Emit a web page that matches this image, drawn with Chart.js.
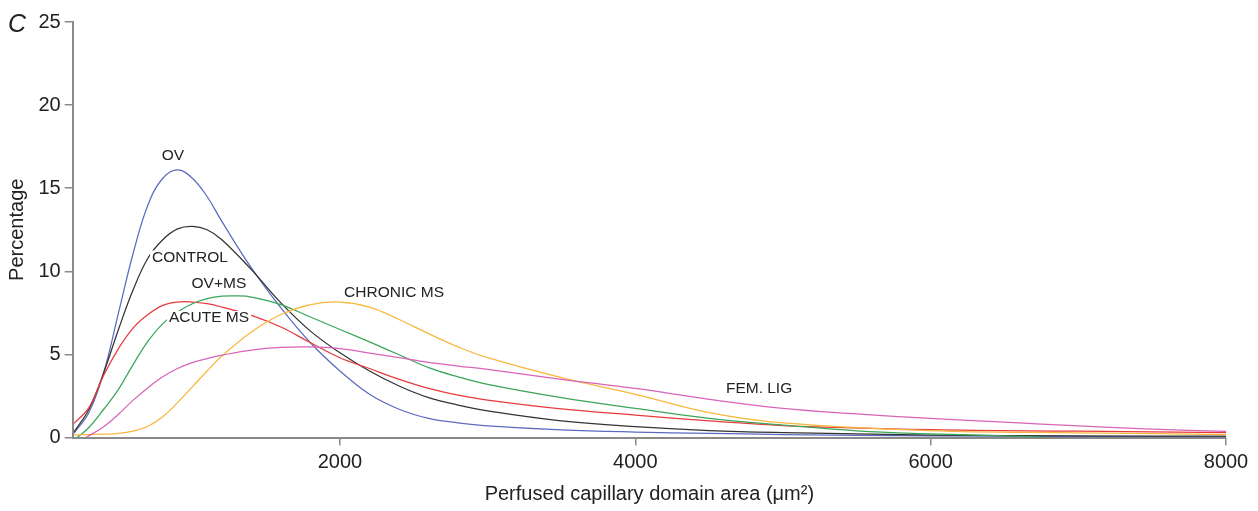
<!DOCTYPE html>
<html>
<head>
<meta charset="utf-8">
<script src="https://cdn.jsdelivr.net/npm/chart.js@4.4.1/dist/chart.umd.min.js"></script>
<style>
  html, body { margin: 0; padding: 0; background: #fff; }
  canvas { display: block; }
</style>
</head>
<body>
<canvas id="chart" width="1258" height="511"></canvas>
<script>
// x values (µm²) and percentage per curve
const X_MAIN = [200, 300, 400, 500, 600, 700, 800, 900, 1000, 1100, 1200, 1400, 1600, 1800, 2000, 2200, 2400, 2600, 2800, 3000, 3500, 4000, 4500, 5000, 6000, 7000, 8000];

const OV =       [0.27, 1.5, 3.9, 7.5, 11.1, 14.0, 15.6, 16.1, 15.6, 14.5, 13.0, 10.2, 7.8, 5.7, 4.0, 2.6, 1.7, 1.15, 0.88, 0.7, 0.46, 0.33, 0.25, 0.18, 0.1, 0.06, 0.04];
const CONTROL =  [0.35, 1.7, 3.9, 6.5, 8.9, 10.8, 11.9, 12.55, 12.7, 12.5, 11.9, 10.1, 8.1, 6.4, 5.1, 4.0, 3.1, 2.4, 1.95, 1.6, 1.0, 0.65, 0.42, 0.3, 0.15, 0.1, 0.08];
const ACUTE_MS = [0.85, 1.8, 3.75, 5.35, 6.6, 7.4, 7.95, 8.15, 8.15, 8.05, 7.85, 7.35, 6.65, 5.7, 4.8, 4.15, 3.5, 2.95, 2.55, 2.25, 1.72, 1.35, 1.0, 0.72, 0.47, 0.38, 0.3];
const CHRONIC_MS = [0.15, 0.18, 0.2, 0.25, 0.38, 0.68, 1.25, 2.1, 3.05, 4.0, 4.9, 6.35, 7.4, 8.0, 8.15, 7.85, 7.1, 6.25, 5.45, 4.8, 3.6, 2.6, 1.5, 0.88, 0.42, 0.28, 0.18];

const X_OVMS = [220, 300, 400, 500, 600, 700, 800, 900, 1000, 1100, 1200, 1300, 1400, 1600, 1800, 2000, 2200, 2400, 2600, 2800, 3000, 3500, 4000, 4500, 5000, 5500, 6000, 6500, 6800];
const OV_MS =  [0, 0.6, 1.7, 2.9, 4.4, 5.8, 6.85, 7.55, 8.05, 8.35, 8.5, 8.52, 8.45, 8.0, 7.25, 6.5, 5.75, 4.98, 4.2, 3.65, 3.2, 2.4, 1.75, 1.15, 0.75, 0.4, 0.22, 0.1, 0];

const X_FEM = [280, 400, 500, 600, 700, 800, 900, 1000, 1100, 1200, 1400, 1600, 1800, 2000, 2200, 2400, 2600, 2800, 3000, 3500, 4000, 4500, 5000, 5500, 6000, 6500, 7000, 7500, 8000];
const FEM_LIG = [0, 0.65, 1.4, 2.25, 3.0, 3.65, 4.15, 4.5, 4.75, 4.95, 5.26, 5.42, 5.45, 5.35, 5.08, 4.8, 4.52, 4.3, 4.1, 3.5, 2.95, 2.3, 1.75, 1.42, 1.15, 0.92, 0.7, 0.5, 0.37];

const X_TICKS = [2000, 4000, 6000, 8000];

// curve labels, in data coordinates
const LABELS = [
  { text: "OV", x: 869, y: 16.94 },
  { text: "CONTROL", x: 984, y: 10.83 },
  { text: "OV+MS", x: 1180, y: 9.24 },
  { text: "ACUTE MS", x: 1113, y: 7.19 },
  { text: "CHRONIC MS", x: 2366, y: 8.72 },
  { text: "FEM. LIG", x: 4838, y: 2.95 },
];

const FONT = '"Liberation Sans", Arial, Helvetica, sans-serif';
const AXIS_GREY = "#8a8a8a";

function pts(xs, ys) {
  return xs.map((x, i) => ({ x, y: ys[i] }));
}

function line(data, color) {
  return {
    data,
    borderColor: color,
    borderWidth: 1.25,
    pointRadius: 0,
    fill: false,
    tension: 0.4,
  };
}

const curveLabels = {
  id: "curveLabels",
  afterDatasetsDraw(chart) {
    const { ctx, scales } = chart;
    ctx.save();
    ctx.font = `15.5px ${FONT}`;
    ctx.textAlign = "center";
    ctx.textBaseline = "middle";
    LABELS.forEach(l => {
      const px = scales.x.getPixelForValue(l.x);
      const py = scales.y.getPixelForValue(l.y);
      const w = ctx.measureText(l.text).width;
      ctx.fillStyle = "#fff";
      ctx.fillRect(px - w / 2 - 2, py - 7, w + 4, 14);
      ctx.fillStyle = "#222";
      ctx.fillText(l.text, px, py);
    });
    // panel letter
    ctx.font = `italic 25px ${FONT}`;
    ctx.textAlign = "left";
    ctx.fillText("C", 8, 25);
    ctx.restore();
  },
};

new Chart(document.getElementById("chart"), {
  type: "line",
  data: {
    datasets: [
      line(pts(X_FEM, FEM_LIG), "#d865b8"),
      line(pts(X_MAIN, CHRONIC_MS), "#f8b73e"),
      line(pts(X_OVMS, OV_MS), "#3aa65a"),
      line(pts(X_MAIN, ACUTE_MS), "#e83a3c"),
      line(pts(X_MAIN, CONTROL), "#333333"),
      line(pts(X_MAIN, OV), "#5b6cc0"),
    ],
  },
  options: {
    responsive: false,
    animation: false,
    devicePixelRatio: 1,
    layout: { padding: { left: 0, right: 32, top: 22, bottom: 0 } },
    plugins: { legend: { display: false }, tooltip: { enabled: false } },
    scales: {
      x: {
        type: "linear",
        min: 190,
        max: 8000,
        afterBuildTicks: s => { s.ticks = X_TICKS.map(v => ({ value: v })); },
        afterFit: s => { s.height = 73.5; },
        grid: { drawOnChartArea: false, drawTicks: true, tickLength: 8, color: AXIS_GREY, lineWidth: 1.5 },
        border: { color: AXIS_GREY, width: 2 },
        ticks: { color: "#222", font: { family: FONT, size: 20 }, padding: 5, callback: v => String(v) },
        title: {
          display: true,
          text: "Perfused capillary domain area (μm²)",
          color: "#222",
          font: { family: FONT, size: 20 },
          padding: { top: 0, bottom: 5 },
        },
      },
      y: {
        min: 0,
        max: 25,
        afterFit: s => { s.width = 72.7; },
        grid: { drawOnChartArea: false, drawTicks: true, tickLength: 8, color: AXIS_GREY, lineWidth: 1.5 },
        border: { color: AXIS_GREY, width: 2 },
        ticks: { stepSize: 5, color: "#222", font: { family: FONT, size: 20 }, padding: 4 },
        title: {
          display: true,
          text: "Percentage",
          color: "#222",
          font: { family: FONT, size: 20 },
          padding: { top: 5, bottom: 0 },
        },
      },
    },
  },
  plugins: [curveLabels],
});
</script>
</body>
</html>
